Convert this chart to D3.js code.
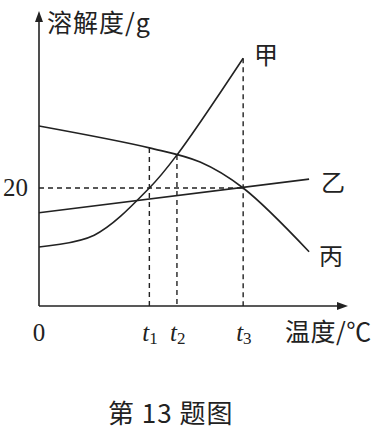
<!DOCTYPE html>
<html><head><meta charset="utf-8">
<script src="https://cdn.jsdelivr.net/npm/d3@7"></script>
<style>body{margin:0;background:#fff}svg{display:block}</style>
</head><body>
<script>
// temperature (x) and solubility (y) data
const tTicks = [{name:"t", sub:"1", v:40},{name:"t", sub:"2", v:50},{name:"t", sub:"3", v:74}];
const yTickValue = 20;
const jia  = [[0,10.0],[20,12.0],[40,20],[50,25.6],[74,42]];
const yi   = [[0,15.8],[97.9,21.5]];
const bing = [[0,30.5],[40,26.8],[58.4,24.4],[74,20],[97.9,9.2]];
const seriesNames = ["甲","乙","丙"];
const yLabel = "溶解度/g", xLabel = "温度/℃", caption = "第 13 题图";

const W=381,H=438;
const svg=d3.select("body").append("svg").attr("width",W).attr("height",H);
const x=d3.scaleLinear().domain([0,112]).range([39,348]);
const y=d3.scaleLinear().domain([0,50]).range([306,11]);
const stroke="#222", lw=1.6;
const serif="'Liberation Serif','DejaVu Serif',serif";
const cjk="'Noto Sans CJK SC','Noto Sans CJK JP',sans-serif";

// axes
svg.append("line").attr("x1",x(0)).attr("x2",x(112)-6).attr("y1",y(0)).attr("y2",y(0)).attr("stroke",stroke).attr("stroke-width",lw);
svg.append("line").attr("x1",x(0)).attr("x2",x(0)).attr("y1",y(0)).attr("y2",y(50)+6).attr("stroke",stroke).attr("stroke-width",lw);
svg.append("path").attr("d",`M${x(112)},${y(0)} L${x(112)-11},${y(0)-4} L${x(112)-11},${y(0)+4}Z`).attr("fill",stroke);
svg.append("path").attr("d",`M${x(0)},${y(50)} L${x(0)-4},${y(50)+11} L${x(0)+4},${y(50)+11}Z`).attr("fill",stroke);

const line=d3.line().x(d=>x(d[0])).y(d=>y(d[1])).curve(d3.curveCatmullRom.alpha(0.5));
// dashed guides
const dash="5,4";
const dashed=(x1,y1,x2,y2)=>svg.append("line").attr("x1",x1).attr("y1",y1).attr("x2",x2).attr("y2",y2).attr("stroke",stroke).attr("stroke-width",1.4).attr("stroke-dasharray",dash);
dashed(x(0),y(yTickValue),x(tTicks[2].v),y(yTickValue));
dashed(x(tTicks[0].v),y(26.8),x(tTicks[0].v),y(0));
dashed(x(tTicks[1].v),y(25.6),x(tTicks[1].v),y(0));
dashed(x(tTicks[2].v),y(42),x(tTicks[2].v),y(0));

[jia,yi,bing].forEach(s=>svg.append("path").attr("d",line(s)).attr("fill","none").attr("stroke",stroke).attr("stroke-width",lw));

// series labels
const labPos=[[254,64],[321,191],[319,265]];
seriesNames.forEach((n,i)=>svg.append("text").attr("x",labPos[i][0]).attr("y",labPos[i][1]).attr("font-family",cjk).attr("font-size",24).attr("fill","#222").text(n));

// tick labels
svg.append("text").attr("x",3).attr("y",y(yTickValue)+8).attr("font-family",serif).attr("font-size",25).attr("fill","#222").text(String(yTickValue));
svg.append("text").attr("x",x(0)).attr("y",341).attr("text-anchor","middle").attr("font-family",serif).attr("font-size",25).attr("fill","#222").text("0");
tTicks.forEach(t=>{
  const tx=svg.append("text").attr("x",x(t.v)-7).attr("y",341).attr("font-family",serif).attr("font-size",25).attr("fill","#222");
  tx.append("tspan").attr("font-style","italic").text(t.name);
  tx.append("tspan").attr("font-size",17).attr("dy",3).text(t.sub);
});
svg.append("text").attr("x",47).attr("y",32).attr("font-family",cjk).attr("font-size",25).attr("letter-spacing",1).attr("fill","#222").text(yLabel);
svg.append("text").attr("x",285).attr("y",341).attr("font-family",cjk).attr("font-size",25).attr("letter-spacing",0.5).attr("fill","#222").text(xLabel);
svg.append("text").attr("x",108).attr("y",423).attr("font-family",cjk).attr("font-size",26).attr("letter-spacing",1).attr("fill","#222").text(caption);
</script>
</body></html>
